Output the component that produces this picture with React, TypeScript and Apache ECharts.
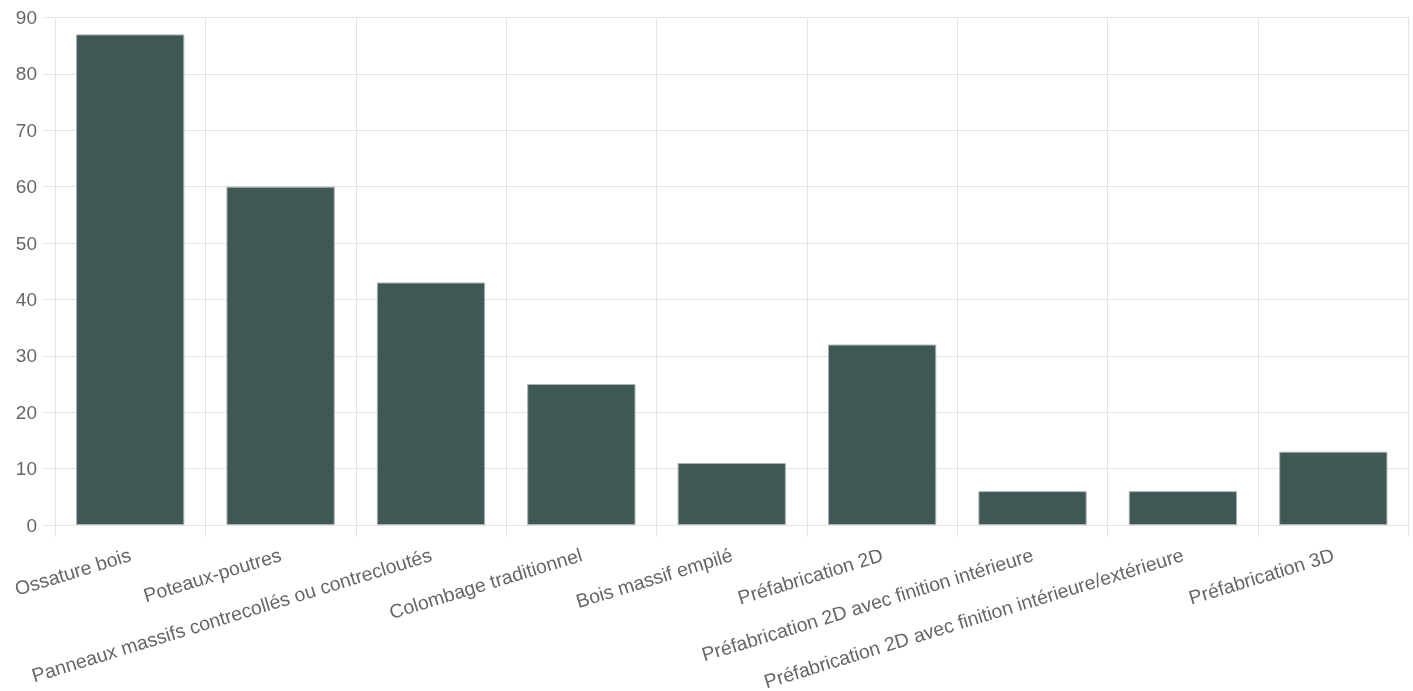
import React, { useEffect, useRef } from "react";
import * as echarts from "echarts";

const categories = [
  "Ossature bois",
  "Poteaux-poutres",
  "Panneaux massifs contrecollés ou contrecloutés",
  "Colombage traditionnel",
  "Bois massif empilé",
  "Préfabrication 2D",
  "Préfabrication 2D avec finition intérieure",
  "Préfabrication 2D avec finition intérieure/extérieure",
  "Préfabrication 3D",
];
const values = [87, 60, 43, 25, 11, 32, 6, 6, 13];
const yMin = 0;
const yMax = 90;
const yStep = 10;

export default function App() {
  const ref = useRef<HTMLDivElement>(null);
  useEffect(() => {
    if (!ref.current) return;
    const chart = echarts.init(ref.current, null, { renderer: "svg" });
    const gridColor = "#e3e3e3";
    chart.setOption({
      animation: false,
      textStyle: { fontFamily: "Liberation Sans, Arial, sans-serif" },
      grid: {
        left: 55,
        right: 4.5,
        top: 17.5,
        bottom: 691 - 525,
        containLabel: false,
        outerBoundsMode: "none",
      },
      xAxis: {
        type: "category",
        data: categories,
        axisLine: { show: true, lineStyle: { color: gridColor, width: 1 } },
        axisTick: { show: true, length: 12, lineStyle: { color: gridColor } },
        splitLine: { show: true, lineStyle: { color: gridColor, width: 1 } },
        axisLabel: {
          interval: 0,
          rotate: 17,
          margin: 29,
          color: "#666",
          fontSize: 19.5,
          fontFamily: "Liberation Sans, Arial, sans-serif",
        },
      },
      yAxis: {
        type: "value",
        min: yMin,
        max: yMax,
        interval: yStep,
        axisLine: { show: true, lineStyle: { color: gridColor, width: 1 } },
        axisTick: { show: true, length: 12, lineStyle: { color: gridColor } },
        splitLine: { show: true, lineStyle: { color: gridColor, width: 1 } },
        axisLabel: {
          margin: 18,
          color: "#666",
          fontSize: 19,
          fontFamily: "Liberation Sans, Arial, sans-serif",
        },
      },
      series: [
        {
          type: "bar",
          data: values,
          barWidth: "72%",
          itemStyle: { color: "#3e5856", borderColor: "#aab3b2", borderWidth: 1 },
        },
      ],
    });
    return () => chart.dispose();
  }, []);
  return (
    <div
      ref={ref}
      style={{ position: "fixed", left: 0, top: 0, width: 1413, height: 691 }}
    />
  );
}
